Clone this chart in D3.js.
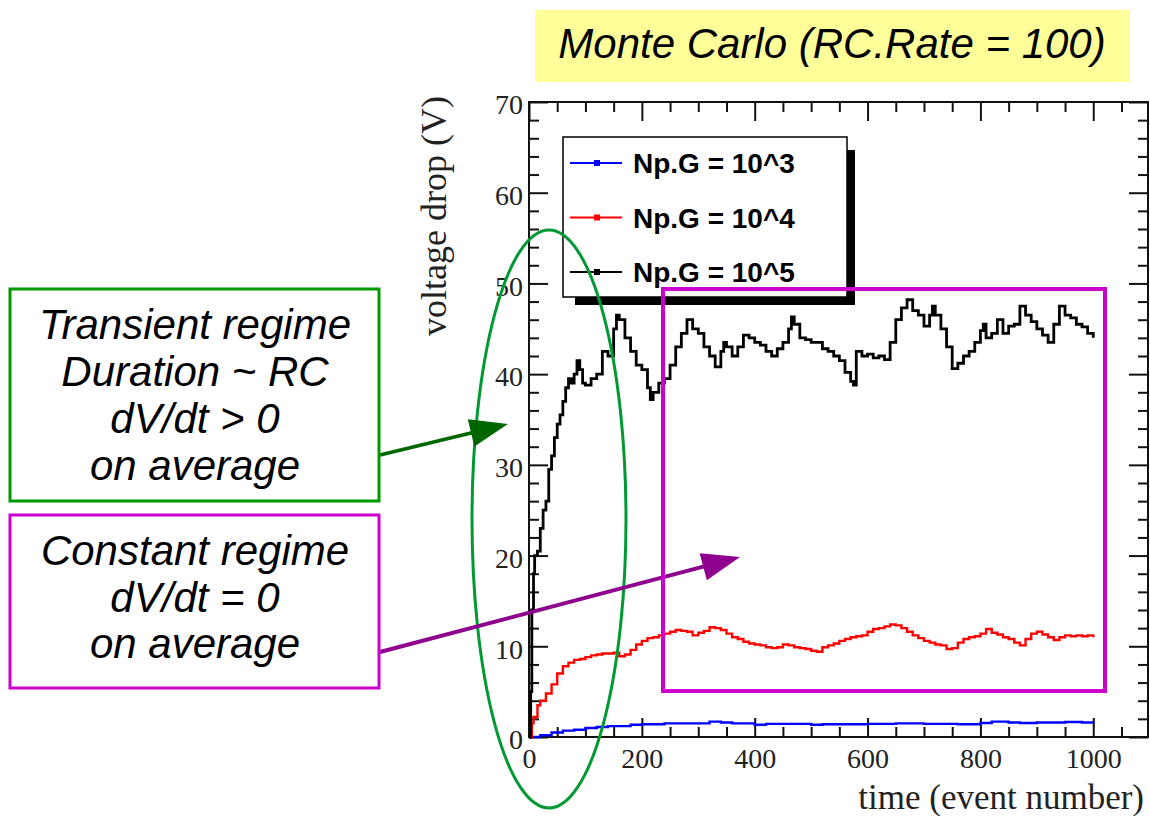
<!DOCTYPE html>
<html>
<head>
<meta charset="utf-8">
<script src="https://cdn.jsdelivr.net/npm/d3@7"></script>
<style>
  html, body { margin: 0; padding: 0; background: #fff; }
  svg { display: block; }
  .axis text { font-family: "Liberation Serif", "DejaVu Serif", serif; font-size: 28px; fill: #222; }
  .axis line { stroke: #111; stroke-width: 2; }
  .note { font-family: "Liberation Sans", Arial, sans-serif; font-style: italic; font-size: 42px; fill: #000; }
</style>
</head>
<body>
<svg id="chart" width="1150" height="816"></svg>
<script>
// --- data ---
const seriesNames = ["Np.G = 10^3", "Np.G = 10^4", "Np.G = 10^5"];
const seriesColors = ["#0000ff", "#ff0000", "#000000"];

const blueTime = [0, 20, 40, 60, 80, 100, 120, 140, 160, 180, 200, 240, 300, 320, 340, 360, 400, 420, 460, 500, 520, 560, 600, 650, 700, 760, 800, 820, 850, 870, 900, 950, 980, 1000];
const blueVolt = [0, 0.2, 0.5, 0.7, 0.8, 1.0, 1.1, 1.2, 1.2, 1.35, 1.4, 1.5, 1.5, 1.7, 1.6, 1.5, 1.35, 1.45, 1.45, 1.35, 1.4, 1.4, 1.45, 1.5, 1.45, 1.4, 1.55, 1.7, 1.6, 1.55, 1.6, 1.65, 1.6, 1.5];

const redTime = [0, 5, 8, 15, 20, 30, 40, 50, 60, 70, 80, 90, 100, 110, 120, 130, 140, 150, 160, 170, 180, 190, 200,
  210, 220, 230, 240, 250, 260, 270, 280, 290, 300, 310, 320, 330, 340, 350, 360, 370, 380, 390, 400,
  410, 420, 430, 440, 450, 460, 470, 480, 490, 500, 510, 520, 530, 540, 550, 560, 570, 580, 590, 600,
  610, 620, 630, 640, 650, 660, 670, 680, 690, 700, 710, 720, 730, 740, 750, 760, 770, 780, 790, 800,
  810, 820, 830, 840, 850, 860, 870, 880, 890, 900, 910, 920, 930, 940, 950, 960, 970, 980, 990, 1000];
const redVolt = [0, 1.5, 2.2, 3.5, 4, 4.8, 5.8, 7, 7.8, 8.2, 8.5, 8.6, 8.8, 9, 9.1, 9.2, 9.2, 9.3, 8.9, 9.1, 9.6, 10.2, 10.6,
  10.9, 11, 11.2, 11.4, 11.6, 11.8, 11.7, 11.6, 11.2, 11.5, 11.7, 12.1, 12, 11.8, 11.4, 11, 10.8, 10.5, 10.3, 10.2,
  10.1, 9.9, 9.8, 9.9, 10.2, 10.1, 9.9, 9.8, 9.7, 9.5, 9.4, 9.9, 10.1, 10.3, 10.6, 10.8, 11, 11.1, 11.2, 11.6,
  11.9, 12, 12.2, 12.4, 12.3, 12, 11.6, 11.2, 10.9, 10.6, 10.4, 10.2, 10.1, 9.7, 9.8, 10.4, 10.8, 11, 11.1, 11.4,
  11.9, 11.5, 11.3, 11, 10.8, 10.4, 10.1, 10.8, 11.4, 11.6, 11.3, 11, 10.7, 11, 11.2, 11.1, 11.2, 11.1, 11.2, 11];

const blackTime = [0, 3, 5, 8, 10, 15, 20, 25, 30, 35, 40, 45, 50, 55, 60, 65, 70, 75, 80, 85, 90, 95, 100,
  110, 120, 130, 140, 150, 155, 160, 170, 180, 190, 200, 210, 215, 220, 230, 240, 250, 260, 270, 280, 290, 300,
  310, 320, 330, 340, 345, 350, 360, 370, 380, 390, 400, 410, 420, 430, 440, 450, 460, 465, 470, 480, 490, 500,
  510, 520, 530, 540, 550, 560, 570, 575, 580, 590, 600, 610, 620, 630, 640, 650, 660, 670, 680, 690, 700,
  710, 715, 720, 730, 740, 750, 760, 770, 780, 790, 800, 805, 810, 820, 830, 840, 850, 860, 870, 880, 890, 900,
  910, 920, 930, 940, 950, 960, 970, 980, 990, 1000];
const blackVolt = [0, 5, 14, 18, 20, 20.5, 23, 25, 26, 29.5, 31, 33, 34.5, 35.5, 37, 38.5, 39.5, 39, 40, 41.5, 40.5, 39, 38.8,
  39.5, 40, 42.5, 42, 45, 46.5, 46, 44, 42.5, 41, 40.5, 38.5, 37.2, 38, 39, 39.5, 41, 43, 44.5, 46, 45, 44.5,
  43, 42, 40.8, 42.5, 43.5, 43, 42, 43, 44.3, 44, 43.5, 43.2, 42.5, 42, 42.8, 43.5, 45, 46.3, 45.5, 44, 43.8, 43.5,
  43.5, 42.8, 42.5, 42, 41.5, 40.2, 39.2, 38.8, 42.5, 42, 42.2, 41.8, 42, 41.6, 43.5, 46, 47.3, 48.2, 47, 46.5, 45.3,
  46.5, 47.5, 46.5, 45, 43, 40.6, 41.2, 42, 42.5, 43.5, 44.8, 45.5, 44, 44.5, 46, 44.5, 45.3, 45.5, 47.5, 46.5, 45.8, 45,
  44.3, 43.5, 45.5, 47.5, 46.5, 46.2, 45.5, 45.2, 44.5, 44];

const xMajorTicks = [0, 200, 400, 600, 800, 1000];
const yMajorTicks = [0, 10, 20, 30, 40, 50, 60, 70];

const transientLines = ["Transient regime", "Duration ~ RC", "dV/dt > 0", "on average"];
const constantLines = ["Constant regime", "dV/dt = 0", "on average"];

// --- layout ---
const svg = d3.select("#chart");
svg.append("rect").attr("width", 1150).attr("height", 816).attr("fill", "#fff");

const x = d3.scaleLinear().domain([0, 1097]).range([529, 1148]);
const y = d3.scaleLinear().domain([0, 70]).range([737, 102]);
const xMinorTicks = d3.range(0, 1097, 50).filter(t => !xMajorTicks.includes(t));
const yMinorTicks = d3.range(0, 70, 2).filter(v => !yMajorTicks.includes(v));

// title box
svg.append("rect")
  .attr("x", 535).attr("y", 10).attr("width", 595).attr("height", 72)
  .attr("fill", "#ffff99");
svg.append("text")
  .attr("class", "note")
  .attr("x", 832).attr("y", 58)
  .attr("text-anchor", "middle")
  .text("Monte Carlo (RC.Rate = 100)");

// axes: ticks point inward, labels only bottom / left
function addAxis(axis, tx, ty) {
  const g = svg.append("g").attr("class", "axis").attr("transform", `translate(${tx},${ty})`).call(axis);
  g.select(".domain").remove();
  return g;
}
addAxis(d3.axisBottom(x).tickValues(xMajorTicks).tickSize(-19).tickPadding(11).tickFormat(d3.format("d")), 0, y(0));
addAxis(d3.axisBottom(x).tickValues(xMinorTicks).tickSize(-10).tickFormat(""), 0, y(0));
addAxis(d3.axisTop(x).tickValues(xMajorTicks).tickSize(-19).tickFormat(""), 0, y(70));
addAxis(d3.axisTop(x).tickValues(xMinorTicks).tickSize(-10).tickFormat(""), 0, y(70));
addAxis(d3.axisLeft(y).tickValues(yMajorTicks).tickSize(-19).tickPadding(6).tickFormat(d3.format("d")), x(0), 0)
  .selectAll("text").attr("dy", "0.42em");
addAxis(d3.axisLeft(y).tickValues(yMinorTicks).tickSize(-10).tickFormat(""), x(0), 0);
addAxis(d3.axisRight(y).tickValues(yMajorTicks).tickSize(-19).tickFormat(""), 1148, 0);
addAxis(d3.axisRight(y).tickValues(yMinorTicks).tickSize(-10).tickFormat(""), 1148, 0);

svg.append("rect")
  .attr("x", x(0)).attr("y", y(70))
  .attr("width", 1148 - x(0)).attr("height", y(0) - y(70))
  .attr("fill", "none").attr("stroke", "#111").attr("stroke-width", 2);

// axis titles
svg.append("text")
  .attr("transform", "translate(446,96) rotate(-90)")
  .attr("text-anchor", "end")
  .style("font-family", "'Liberation Serif', serif").style("font-size", "36px").style("fill", "#222")
  .text("voltage drop (V)");
svg.append("text")
  .attr("x", 1144).attr("y", 809)
  .attr("text-anchor", "end")
  .style("font-family", "'Liberation Serif', serif").style("font-size", "35px").style("fill", "#222")
  .text("time (event number)");

// series, drawn as ROOT-like staircases
const line = d3.line().curve(d3.curveStepAfter).x(d => x(d[0])).y(d => y(d[1]));
const series = [
  { name: seriesNames[0], color: seriesColors[0], pts: d3.zip(blueTime, blueVolt), w: 2.4 },
  { name: seriesNames[1], color: seriesColors[1], pts: d3.zip(redTime, redVolt), w: 2.4 },
  { name: seriesNames[2], color: seriesColors[2], pts: d3.zip(blackTime, blackVolt), w: 2.8 }
];
svg.append("g").selectAll("path")
  .data(series)
  .join("path")
  .attr("d", d => line(d.pts))
  .attr("fill", "none")
  .attr("stroke", d => d.color)
  .attr("stroke-width", d => d.w)
  .attr("stroke-linejoin", "miter");

// legend with ROOT-style shadow
const legend = svg.append("g");
legend.append("rect").attr("x", 575).attr("y", 150).attr("width", 280).attr("height", 155).attr("fill", "#000");
legend.append("rect").attr("x", 563).attr("y", 137).attr("width", 284).attr("height", 160)
  .attr("fill", "#fff").attr("stroke", "#000").attr("stroke-width", 1.5);
const entry = legend.selectAll("g.entry")
  .data(series)
  .join("g")
  .attr("class", "entry")
  .attr("transform", (d, i) => `translate(0,${163 + i * 54.5})`);
entry.append("line").attr("x1", 570).attr("x2", 622).attr("stroke", d => d.color).attr("stroke-width", 2);
entry.append("rect").attr("x", 594).attr("y", -3).attr("width", 6).attr("height", 6).attr("fill", d => d.color);
entry.append("text")
  .attr("x", 633).attr("y", 10)
  .style("font-family", "'Liberation Sans', Arial, sans-serif").style("font-weight", "bold").style("font-size", "28px")
  .text(d => d.name);

// annotations
svg.append("ellipse")
  .attr("cx", 549).attr("cy", 519).attr("rx", 77).attr("ry", 289)
  .attr("fill", "none").attr("stroke", "#009933").attr("stroke-width", 3);

function arrow(x1, y1, x2, y2, color, width) {
  const dx = x2 - x1, dy = y2 - y1, len = Math.hypot(dx, dy);
  const ux = dx / len, uy = dy / len, hl = 38, hw = 14;
  const bx = x2 - ux * hl, by = y2 - uy * hl;
  svg.append("line").attr("x1", x1).attr("y1", y1).attr("x2", bx + ux * 2).attr("y2", by + uy * 2)
    .attr("stroke", color).attr("stroke-width", width);
  svg.append("polygon")
    .attr("points", [[x2, y2], [bx - uy * hw, by + ux * hw], [bx + uy * hw, by - ux * hw]].map(p => p.join(",")).join(" "))
    .attr("fill", color);
}
arrow(380, 455, 508, 424, "#006600", 3.5);
arrow(380, 652, 740, 557, "#8e008e", 4);

svg.append("rect")
  .attr("x", 663).attr("y", 289).attr("width", 442).attr("height", 402)
  .attr("fill", "none").attr("stroke", "#cc00cc").attr("stroke-width", 4);

// left text boxes
svg.append("rect").attr("x", 10).attr("y", 289).attr("width", 369).attr("height", 212)
  .attr("fill", "#fff").attr("stroke", "#009900").attr("stroke-width", 3);
svg.append("rect").attr("x", 10).attr("y", 515).attr("width", 369).attr("height", 173)
  .attr("fill", "#fff").attr("stroke", "#cc00cc").attr("stroke-width", 3);

svg.append("g").selectAll("text")
  .data(transientLines)
  .join("text")
  .attr("class", "note")
  .attr("x", 195).attr("y", (d, i) => 339 + i * 47)
  .attr("text-anchor", "middle")
  .text(d => d);
svg.append("g").selectAll("text")
  .data(constantLines)
  .join("text")
  .attr("class", "note")
  .attr("x", 195).attr("y", (d, i) => 565 + i * 46.5)
  .attr("text-anchor", "middle")
  .text(d => d);
</script>
</body>
</html>
